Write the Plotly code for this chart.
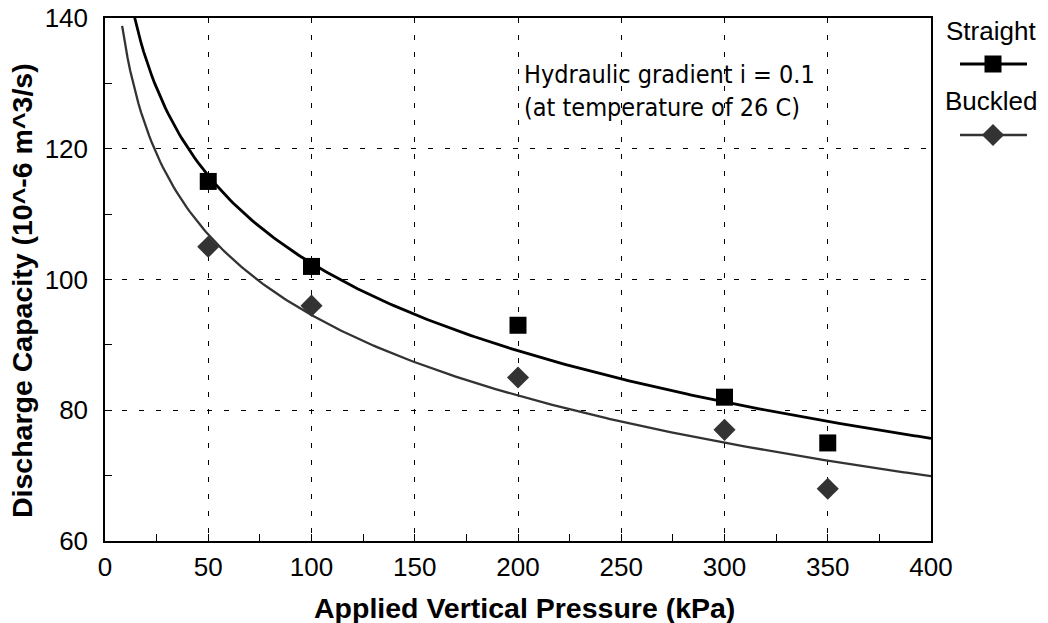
import numpy as np
import plotly.graph_objects as go

pressure = [50, 100, 200, 300, 350]
straight = [115, 102, 93, 82, 75]
buckled = [105, 96, 85, 77, 68]
series_names = ["Straight", "Buckled"]

# logarithmic trendlines fitted to the data (as in the source chart)
xs = np.linspace(8.3, 400, 300)
cs = np.polyfit(np.log(pressure), straight, 1)
cb = np.polyfit(np.log(pressure), buckled, 1)
ys_s = cs[0] * np.log(xs) + cs[1]
ys_b = cb[0] * np.log(xs) + cb[1]

BLACK = "#000000"
GRAY = "#333333"
FONT = "Liberation Sans, Arial"

W, H = 1048, 623
L, R, T, B = 105, 10, 18, 82
PW = W - L - R
PH = H - T - B
PLOT_RIGHT = 931


def px(x):
    return (x - L) / PW


def py(y):
    return (H - B - y) / PH


fig = go.Figure()
fig.add_trace(go.Scatter(x=xs, y=ys_b, mode="lines", line=dict(color=GRAY, width=2.3), showlegend=False, hoverinfo="skip"))
fig.add_trace(go.Scatter(x=xs, y=ys_s, mode="lines", line=dict(color=BLACK, width=2.8), showlegend=False, hoverinfo="skip"))
fig.add_trace(go.Scatter(x=pressure, y=straight, mode="markers", name=series_names[0],
                         marker=dict(symbol="square", size=17, color=BLACK, line=dict(width=0)), showlegend=False))
fig.add_trace(go.Scatter(x=pressure, y=buckled, mode="markers", name=series_names[1],
                         marker=dict(symbol="diamond", size=17, color=GRAY, line=dict(width=0)), showlegend=False))

# custom legend (text above sample) drawn on an auxiliary axis in the right area
lx0, lx1 = 944, 1038
def lx(x):
    return (x - lx0) / (lx1 - lx0)

for yline, color, width, sym in [(64, BLACK, 2.8, "square"), (135, GRAY, 2.3, "diamond")]:
    fig.add_trace(go.Scatter(x=[lx(960), lx(1027)], y=[py(yline), py(yline)], xaxis="x2", yaxis="y2", mode="lines",
                             line=dict(color=color, width=width), showlegend=False, hoverinfo="skip"))
    fig.add_trace(go.Scatter(x=[lx(993)], y=[py(yline)], xaxis="x2", yaxis="y2", mode="markers",
                             marker=dict(symbol=sym, size=17, color=color), showlegend=False, hoverinfo="skip"))

fig.add_annotation(x=px(991), y=py(31), xref="paper", yref="paper", xanchor="center", yanchor="middle",
                   text=series_names[0], showarrow=False,
                   font=dict(family=FONT, size=26, color="black"))
fig.add_annotation(x=px(991), y=py(101), xref="paper", yref="paper", xanchor="center", yanchor="middle",
                   text=series_names[1], showarrow=False,
                   font=dict(family=FONT, size=26, color="black"))

fig.add_annotation(x=px(522), y=py(58), xref="paper", yref="paper", xanchor="left", yanchor="top", align="left",
                   text="Hydraulic gradient i = 0.1<br>(at temperature of 26 C)", showarrow=False,
                   font=dict(family="DejaVu Sans Condensed, Liberation Sans Narrow", size=25, color="black"))

# axis titles
fig.add_annotation(x=px(524), y=py(608), xref="paper", yref="paper", xanchor="center", yanchor="middle",
                   showarrow=False, text="<b>Applied Vertical Pressure (kPa)</b>",
                   font=dict(family=FONT, size=28.5, color="black"))
fig.add_annotation(x=px(22), y=py(291), xref="paper", yref="paper", xanchor="center", yanchor="middle",
                   showarrow=False, textangle=-90,
                   text="<b>Discharge Capacity (10^-6 m^3/s)</b>",
                   font=dict(family=FONT, size=28.5, color="black"))

axis_common = dict(showline=True, linecolor="black", linewidth=1.5, mirror=True,
                   ticks="inside", ticklen=7, tickcolor="black",
                   showgrid=True, gridcolor="black", gridwidth=1, griddash="5px,12px",
                   zeroline=False, automargin=False,
                   tickfont=dict(family=FONT, size=26, color="black"))

fig.update_layout(
    width=W, height=H,
    margin=dict(l=L, r=R, t=T, b=B),
    plot_bgcolor="white", paper_bgcolor="white",
    xaxis=dict(range=[0, 400], dtick=50, tick0=0, domain=[0, px(PLOT_RIGHT)],
               minor=dict(dtick=25, ticks="inside", ticklen=7, tickcolor="black", showgrid=False),
               ticklabelstandoff=2,
               **axis_common),
    yaxis=dict(range=[60, 140], dtick=20, tick0=60,
               minor=dict(dtick=10, ticks="inside", ticklen=7, tickcolor="black", showgrid=False),
               ticklabelstandoff=10,
               **axis_common),
    xaxis2=dict(domain=[px(lx0), 1.0], range=[0, 1], visible=False, anchor="y2"),
    yaxis2=dict(domain=[0, 1], range=[0, 1], visible=False, anchor="x2"),
)

fig.write_html("out.html")
